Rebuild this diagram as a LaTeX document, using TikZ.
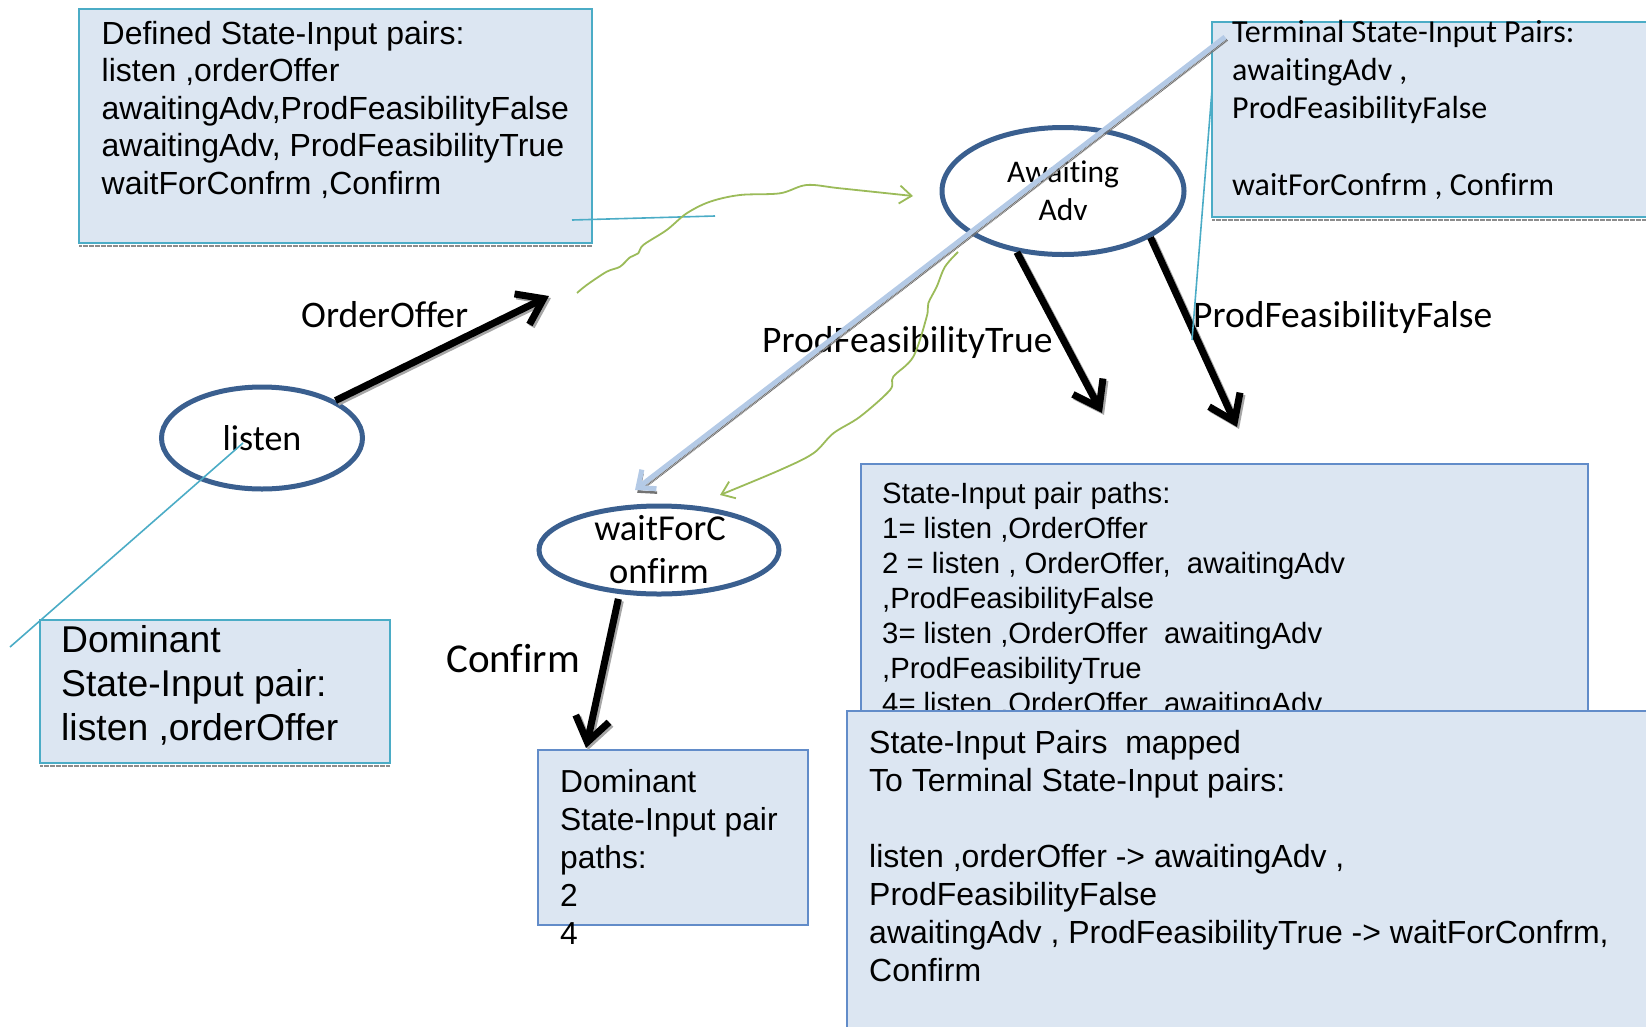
\documentclass[tikz,border=0pt]{standalone}
\usepackage{fontspec}
\setmainfont{Liberation Sans}
\newfontfamily\calfont[Ligatures={NoCommon,NoContextual}]{Carlito}
\usetikzlibrary{arrows.meta,shapes.geometric}
\definecolor{boxfill}{HTML}{DCE6F2}
\definecolor{tealline}{HTML}{4BACC6}
\definecolor{blueedge}{RGB}{98,140,201}
\definecolor{ellline}{HTML}{3A5F8F}
\definecolor{greenline}{HTML}{9BBB59}
\definecolor{paleblue}{HTML}{B4CAE6}
% invisible rule that fixes the height of a first line
\newcommand\lineroof[1]{\rule{0pt}{#1}}
\tikzset{
  tealbox/.style={draw=tealline, line width=1.6pt, fill=boxfill, inner sep=0pt, outer sep=0pt, anchor=north west},
  bluebox/.style={draw=blueedge, line width=1.6pt, fill=boxfill, inner sep=0pt, outer sep=0pt, anchor=north west},
  boxshadow/.style={draw=black!45, line width=2.4pt, dash pattern=on 0.7pt off 0.5pt},
  stateell/.style={ellipse, draw=ellline, line width=5pt, inner sep=0pt},
  boxtext/.style={anchor=north west, inner sep=0pt, align=left},
  elltext/.style={anchor=base, inner sep=0pt},
  lbl/.style={anchor=base west, inner sep=0pt, font=\calfont\fontsize{37.5pt}{44pt}\selectfont},
  heavy/.style={draw=black, line width=7pt, -{Straight Barb[length=24pt,width=34pt,line width=7pt]}},
  heavyshade/.style={heavy, draw=black!35, transform canvas={xshift=2pt,yshift=-2pt}},
  blueline/.style={draw=paleblue, line width=5pt, -{Straight Barb[length=14pt,width=24pt,line width=5pt]}},
  blueshade/.style={draw=black!55, line width=2.5pt, dash pattern=on 1pt off 0.6pt,
    transform canvas={xshift=2.2pt,yshift=-2.8pt}, -{Straight Barb[length=14pt,width=24pt,line width=2.5pt]}},
  greenarrow/.style={draw=greenline, line width=1.8pt, -{Straight Barb[length=12pt,width=18pt,line width=1.8pt]}},
  tealthin/.style={draw=tealline, line width=1.6pt}
}
\begin{document}
\begin{tikzpicture}[x=1pt,y=-1pt]
\useasboundingbox (0,0) rectangle (1646,1026);
\clip (0,0) rectangle (1646,1026);

% ---- note boxes ----
\node[tealbox, minimum width=513pt, minimum height=234pt] (defbox) at (79,9) {};
\draw[boxshadow] ([yshift=-3pt]defbox.south west) -- ([yshift=-3pt]defbox.south east);
\node[boxtext, font=\fontsize{32pt}{37.5pt}\selectfont] (deftext) at (101.5,18)
  {\lineroof{26pt}Defined State-Input pairs:\\listen ,orderOffer\\awaitingAdv,ProdFeasibilityFalse\\awaitingAdv, ProdFeasibilityTrue\\waitForConfrm ,Confirm};

\node[tealbox, minimum width=460pt, minimum height=195pt] (termbox) at (1212,22) {};
\draw[boxshadow] ([yshift=-3pt]termbox.south west) -- ([yshift=-3pt]termbox.south east);
\node[boxtext, font=\calfont\fontsize{32pt}{38.3pt}\selectfont] (termtext) at (1232,16)
  {\lineroof{26pt}Terminal State-Input Pairs:\\awaitingAdv ,\\ProdFeasibilityFalse\\[38.3pt]waitForConfrm , Confirm};

\node[tealbox, minimum width=350pt, minimum height=143pt] (dombox) at (40,620) {};
\draw[boxshadow] ([yshift=-3pt]dombox.south west) -- ([yshift=-3pt]dombox.south east);
\node[boxtext, font=\fontsize{37.3pt}{44pt}\selectfont] (domtext) at (61,622)
  {\lineroof{30pt}Dominant\\State-Input pair:\\listen ,orderOffer};

\node[bluebox, minimum width=727pt, minimum height=340pt] (pathbox) at (861,464) {};
\node[boxtext, font=\fontsize{29.3pt}{35pt}\selectfont] (pathtext) at (882,479)
  {\lineroof{24pt}State-Input pair paths:\\1= listen ,OrderOffer\\2 = listen , OrderOffer,~ awaitingAdv\\,ProdFeasibilityFalse\\3= listen ,OrderOffer~ awaitingAdv\\,ProdFeasibilityTrue\\4= listen ,OrderOffer~ awaitingAdv};

\node[bluebox, minimum width=813pt, minimum height=330pt] (mapbox) at (847,711) {};
\node[boxtext, font=\fontsize{32pt}{38pt}\selectfont] (maptext) at (869,727)
  {\lineroof{26pt}State-Input Pairs~ mapped\\To Terminal State-Input pairs:\\[38pt]listen ,orderOffer -> awaitingAdv ,\\ProdFeasibilityFalse\\awaitingAdv , ProdFeasibilityTrue -> waitForConfrm,\\Confirm};

\node[bluebox, minimum width=270pt, minimum height=175pt] (dpbox) at (538,750) {};
\node[boxtext, font=\fontsize{31.8pt}{38pt}\selectfont] (dptext) at (560,766)
  {\lineroof{26pt}Dominant\\State-Input pair\\paths:\\2\\4};

% ---- transition labels ----
\node[lbl] (ooLbl) at (301,327) {OrderOffer};
\node[lbl] (ptLbl) at (762,352) {ProdFeasibilityTrue};
\node[lbl] (pfLbl) at (1193,327) {ProdFeasibilityFalse};
\node[lbl, font=\calfont\fontsize{41pt}{48pt}\selectfont] (cfLbl) at (446,672) {Confirm};

% ---- states ----
\node[stateell, minimum width=201pt, minimum height=102pt] (lis) at (262,438) {};
\node[elltext, font=\calfont\fontsize{36pt}{43pt}\selectfont] (lisT) at (262,450) {listen};

\node[stateell, minimum width=242pt, minimum height=127pt] (aw) at (1063,191) {};
\node[elltext, font=\calfont\fontsize{31.5pt}{38pt}\selectfont] (awTa) at (1063,182) {Awaiting};
\node[elltext, font=\calfont\fontsize{31.5pt}{38pt}\selectfont] (awTb) at (1063,220) {Adv};

\node[stateell, minimum width=240pt, minimum height=88pt] (wfc) at (659,550) {};
\node[elltext, font=\calfont\fontsize{36.5pt}{43pt}\selectfont] (wfcTa) at (660,540) {waitForC};
\node[elltext, font=\calfont\fontsize{36.5pt}{43pt}\selectfont] (wfcTb) at (659,583) {onfirm};

% ---- free ends of connectors ----
\coordinate (ooEnd) at (549,296);
\coordinate (ptEnd) at (1102,413);
\coordinate (pfEnd) at (1237,427);
\coordinate (cfEnd) at (586,748);
\coordinate (blStart) at (1225,37);
\coordinate (blEnd) at (635,490);
\coordinate (gaStart) at (577,293);
\coordinate (gaEnd) at (913,196);
\coordinate (gbStart) at (958,252);
\coordinate (gbEnd) at (720,495);
\coordinate (taStart) at (572,220);
\coordinate (taEnd) at (715,216);
\coordinate (tbStart) at (243,443);
\coordinate (tbEnd) at (10,647);
\coordinate (tcStart) at (1212,90);
\coordinate (tcEnd) at (1192,340);

% ---- thick transitions ----
\draw[heavyshade] (lis.27) -- (ooEnd);
\draw[heavy] (lis.27) -- (ooEnd);
\draw[heavyshade] (aw.233) -- (ptEnd);
\draw[heavy] (aw.233) -- (ptEnd);
\draw[heavyshade] (aw.332) -- (pfEnd);
\draw[heavy] (aw.332) -- (pfEnd);
\draw[heavyshade, shorten <=5pt] (wfc.228) -- (cfEnd);
\draw[heavy, shorten <=5pt] (wfc.228) -- (cfEnd);

% ---- thin callout lines ----
\draw[tealthin] (taStart) -- (taEnd);
\draw[tealthin] (tbStart) -- (tbEnd);
\draw[tealthin] (tcStart) -- (tcEnd);

% ---- hand-drawn green arrows ----
\draw[greenarrow] plot[smooth, tension=0.55] coordinates {(gaStart) (586.7,285) (606.7,271.7) (620,266.7) (630,257.3) (638.3,253.3) (643.3,245) (666.7,230) (686.7,213.3) (710,201.7) (740,195) (780,193.3) (806.7,185) (840,188.3) (gaEnd)};
\draw[greenarrow] plot[smooth, tension=0.55] coordinates {(gbStart) (945,266.7) (936.7,286.7) (928.3,303.3) (926.7,316.7) (913.3,356.7) (893.3,376.7) (890,390) (860,416.7) (833.3,433.3) (813.3,453.3) (780,470) (gbEnd)};

% ---- long pale blue arrow ----
\draw[blueshade] (blStart) -- (blEnd);
\draw[blueline] (blStart) -- (blEnd);
\end{tikzpicture}
\end{document}
